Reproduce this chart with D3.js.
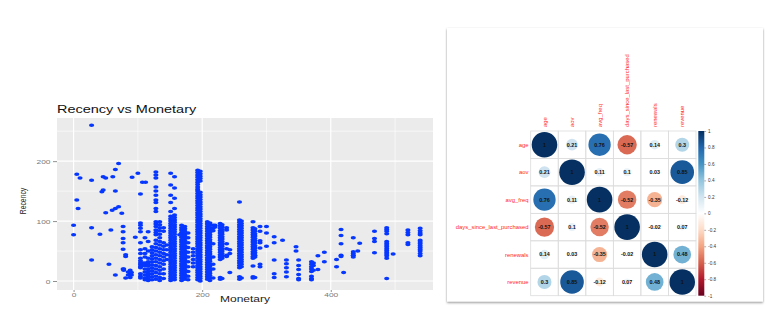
<!DOCTYPE html>
<html>
<head>
<meta charset="utf-8">
<script src="https://cdn.jsdelivr.net/npm/d3@7"></script>
<style>
  html, body { margin: 0; padding: 0; background: #fff; }
  svg { display: block; font-family: "Liberation Sans", Arial, Helvetica, sans-serif; }
</style>
</head>
<body>
<svg id="chart" width="782" height="332"></svg>
<script>
// ---------- Recency vs Monetary: each entry is [monetary, recency values observed at it] ----------
const recencyByMonetary = [
  [0, [93, 77]],
  [5, [178, 135]],
  [7, [121]],
  [10, [172]],
  [28, [260, 168, 89, 35]],
  [41, [78]],
  [44, [149]],
  [46, [152, 174]],
  [50, [114, 172]],
  [55, [28]],
  [58, [85]],
  [60, [118]],
  [61, [174]],
  [65, [186, 150, 121, 10]],
  [70, [196, 124]],
  [75, [113]],
  [77, [91, 82, 71, 64, 53, 20]],
  [78, [20, 18]],
  [81, [44, 41, 5]],
  [85, [15, 10]],
  [88, [18, 12, 6]],
  [90, [10, 14]],
  [91, [173]],
  [96, [73]],
  [100, [180]],
  [104, [145, 97, 93, 88, 82, 64, 52, 46, 38, 34, 30, 27, 24, 22, 12, 8, 5]],
  [107, [165, 30, 26]],
  [111, [72, 54, 46, 40, 30, 26, 20, 15, 10, 5, 2]],
  [112, [165]],
  [116, [82, 66, 50, 38, 32, 28, 25, 20, 16, 12, 8, 4, 1]],
  [122, [57, 52, 47, 42, 37, 32, 27, 22, 17, 12, 7, 2]],
  [128, [182, 177, 172, 157, 150, 143, 135, 131, 121, 116, 99, 95, 91, 85, 81, 77, 68, 62, 56, 50, 44, 38, 32, 26, 20, 14, 8, 3]],
  [134, [99, 94, 89, 84, 78, 72, 66, 60, 54, 48, 42, 36, 30, 24, 18, 12, 6, 1]],
  [140, [89, 83, 64, 58, 52, 46, 40, 34, 28, 20, 12, 4]],
  [145, [60, 52, 44, 36]],
  [151, [180, 160, 143, 131, 116, 108, 104, 100, 96, 92, 88, 84, 80, 76, 72, 68, 64, 60, 56, 52, 48, 44, 40, 36, 32, 28, 24, 20, 16, 12, 8, 4, 1]],
  [157, [174, 155, 138, 121, 110, 106, 102, 98, 94, 90, 86, 82, 78, 74, 70, 66, 62, 58, 54, 50, 46, 42, 38, 34, 30, 26, 22, 18, 14, 10, 6, 2]],
  [165, [77]],
  [168, [93, 89, 85, 81, 77, 73, 69, 65, 61, 57, 53, 49, 45, 41, 37, 33, 29, 25, 21, 17, 13, 9, 5, 1]],
  [173, [91, 87, 83, 79, 75, 71, 67, 63, 59, 55, 51, 47, 43, 39, 35, 31, 27, 23, 19, 15, 11, 7, 3]],
  [178, [80, 72, 64, 56, 48, 40, 32, 24, 16, 8, 2]],
  [186, [54, 48, 42, 36, 30, 24]],
  [193, [185, 181, 177, 173, 169, 165, 161, 157, 153, 150, 146, 142, 138, 134, 130, 126, 122, 118, 114, 110, 106, 102, 98, 94, 90, 86, 82, 78, 74, 70, 66, 62, 58, 54, 50, 46, 42, 38, 34, 30, 26, 22, 18, 14, 10, 6, 2]],
  [197, [183, 179, 175, 171, 167, 148, 144, 140, 136, 132, 128, 124, 120, 116, 112, 108, 104, 100, 96, 92, 88, 84, 80, 76, 72, 68, 64, 60, 56, 52, 48, 44, 40, 36, 32, 28, 24, 20, 16, 12, 8, 4, 0]],
  [208, [99, 95, 91, 87, 83, 79, 75, 71, 67, 63, 59, 55, 51, 47, 43, 39, 35, 31, 27, 23, 19, 15, 11, 7, 3]],
  [212, [97, 93, 89, 85, 81, 77, 73, 69, 65, 61, 57, 53, 49, 45, 41, 37, 33, 29, 25, 21, 17, 13, 9, 5, 1]],
  [217, [93, 88, 84, 62, 40, 28, 20, 5]],
  [220, [93, 90]],
  [228, [96, 92, 88, 84, 80, 76, 72, 68, 64, 60, 56, 52, 48, 44, 40, 36, 6, 3]],
  [231, [94, 90, 86, 82, 78, 74, 70, 66, 62, 58, 54, 50, 46, 42, 38, 4]],
  [238, [89, 85, 62, 54, 43, 41]],
  [243, [52, 46, 14]],
  [258, [132, 102, 98, 94, 90, 86, 82, 78, 74, 70, 66, 62, 58, 54, 50, 46, 42, 38, 34, 30, 26, 22, 7, 3]],
  [261, [100, 96, 92, 88, 84, 80, 76, 72, 68, 64, 60, 56, 52, 48, 44, 40, 36, 32, 28, 24, 5]],
  [279, [99, 89, 85, 81, 77, 73, 69, 65, 61, 57, 53, 49, 45, 41, 38, 25, 7, 5]],
  [282, [87, 83, 79, 75, 71, 67, 63, 59, 55, 51, 47, 43, 40, 6]],
  [290, [91, 83, 67, 64, 55, 28, 24]],
  [300, [91, 80, 58]],
  [312, [74, 64, 35, 12, 6]],
  [325, [68]],
  [331, [35, 29, 22, 15, 7]],
  [346, [57, 50]],
  [350, [35, 26, 19, 11, 4, 2]],
  [370, [32, 28, 24, 20, 16, 8, 4, 2]],
  [373, [30, 26, 18]],
  [380, [42, 19]],
  [390, [48, 32]],
  [409, [36, 24]],
  [416, [86, 76, 62, 43, 41]],
  [420, [14]],
  [435, [72, 49, 46, 43, 40]],
  [442, [50]],
  [445, [63]],
  [468, [83, 71, 66, 47]],
  [487, [89, 86, 83, 79, 66, 63, 60, 57, 54, 51, 48, 45, 42, 38, 4]],
  [497, [45]],
  [520, [85, 81, 77, 64, 61]],
  [539, [88, 84, 80, 77, 68, 65, 62, 59, 56, 53, 50, 46, 42]]
];
const xTicks = [0, 200, 400];
const xMinor = [100, 300, 500];
const yTicks = [0, 100, 200];
const yMinor = [50, 150, 250];

// ---------- Correlation matrix ----------
const variables = ["age", "aov", "avg_freq", "days_since_last_purchased", "renewals", "revenue"];
const corrAge      = [1, 0.21, 0.76, -0.57, 0.14, 0.3];
const corrAov      = [0.21, 1, 0.11, 0.1, 0.03, 0.85];
const corrAvgFreq  = [0.76, 0.11, 1, -0.52, -0.35, -0.12];
const corrDays     = [-0.57, 0.1, -0.52, 1, -0.02, 0.07];
const corrRenewals = [0.14, 0.03, -0.35, -0.02, 1, 0.48];
const corrRevenue  = [0.3, 0.85, -0.12, 0.07, 0.48, 1];
const legendTicks = [1, 0.8, 0.6, 0.4, 0.2, 0, -0.2, -0.4, -0.6, -0.8, -1];
const rdbu = ["#67001F", "#B2182B", "#D6604D", "#F4A582", "#FDDBC7", "#FFFFFF",
              "#D1E5F0", "#92C5DE", "#4393C3", "#2166AC", "#053061"];

const svg = d3.select("#chart");
const SX = 1.45; // horizontal stretch of the scatter panel's lettering

// ================= Scatter =================
const x = d3.scaleLinear().domain([-25.8, 559]).range([57, 433]);
const y = d3.scaleLinear().domain([-15, 272]).range([290, 118]);

const sc = svg.append("g");
sc.append("rect")
  .attr("x", x.range()[0]).attr("y", y.range()[1])
  .attr("width", x.range()[1] - x.range()[0])
  .attr("height", y.range()[0] - y.range()[1])
  .attr("fill", "#EBEBEB");

// grid lines
sc.selectAll(".gxm").data(xMinor).join("line")
  .attr("x1", d => x(d)).attr("x2", d => x(d))
  .attr("y1", y.range()[1]).attr("y2", y.range()[0])
  .attr("stroke", "#fff").attr("stroke-width", 0.6);
sc.selectAll(".gym").data(yMinor).join("line")
  .attr("y1", d => y(d)).attr("y2", d => y(d))
  .attr("x1", x.range()[0]).attr("x2", x.range()[1])
  .attr("stroke", "#fff").attr("stroke-width", 0.6);
sc.selectAll(".gx").data(xTicks).join("line")
  .attr("x1", d => x(d)).attr("x2", d => x(d))
  .attr("y1", y.range()[1]).attr("y2", y.range()[0])
  .attr("stroke", "#fff").attr("stroke-width", 1.2);
sc.selectAll(".gy").data(yTicks).join("line")
  .attr("y1", d => y(d)).attr("y2", d => y(d))
  .attr("x1", x.range()[0]).attr("x2", x.range()[1])
  .attr("stroke", "#fff").attr("stroke-width", 1.2);

// points
const points = recencyByMonetary.flatMap(([m, rs]) => rs.map(r => ({ m, r })));
sc.append("g").selectAll("ellipse").data(points).join("ellipse")
  .attr("cx", d => x(d.m)).attr("cy", d => y(d.r))
  .attr("rx", 2.6).attr("ry", 1.75)
  .attr("fill", "#0637FF");

// axes
const xAxis = sc.append("g").attr("transform", `translate(0,${y.range()[0]})`)
  .call(d3.axisBottom(x).tickValues(xTicks).tickSize(2).tickPadding(2));
const yAxis = sc.append("g").attr("transform", `translate(${x.range()[0]},0)`)
  .call(d3.axisLeft(y).tickValues(yTicks).tickSize(4).tickPadding(2));
[xAxis, yAxis].forEach(a => {
  a.select(".domain").remove();
  a.selectAll(".tick line").attr("stroke", "#444").attr("stroke-width", 0.6);
  a.selectAll(".tick text").attr("fill", "#7a7a7a").attr("font-size", 5.8)
    .attr("font-family", null);
});
xAxis.selectAll(".tick text").attr("y", 3).attr("dy", "0.71em")
  .attr("transform", `scale(${SX},1)`);
yAxis.selectAll(".tick text").attr("x", 0).attr("dy", "0.35em")
  .attr("transform", `translate(-6.5,0) scale(${SX},1)`);

// titles
sc.append("text").text("Recency vs Monetary")
  .attr("transform", `translate(57,113) scale(${SX},1)`)
  .attr("font-size", 10).attr("fill", "#111");
sc.append("text").text("Monetary")
  .attr("transform", `translate(${(x.range()[0] + x.range()[1]) / 2},301.5) scale(${SX},1)`)
  .attr("text-anchor", "middle").attr("font-size", 8.3).attr("fill", "#222");
sc.append("text").text("Recency")
  .attr("transform", `translate(25.5,201) scale(${SX},1) rotate(-90)`)
  .attr("text-anchor", "middle").attr("font-size", 6.8).attr("fill", "#222");

// ================= Correlation card =================
const defs = svg.append("defs");
const shadow = defs.append("filter").attr("id", "cardShadow")
  .attr("x", "-5%").attr("y", "-5%").attr("width", "110%").attr("height", "110%");
shadow.append("feDropShadow").attr("dx", 0).attr("dy", 1.2)
  .attr("stdDeviation", 1.3).attr("flood-color", "#000").attr("flood-opacity", 0.45);

svg.append("rect").attr("x", 447).attr("y", 28).attr("width", 316).attr("height", 273.5)
  .attr("fill", "#fff").attr("filter", "url(#cardShadow)");

const matrix = [corrAge, corrAov, corrAvgFreq, corrDays, corrRenewals, corrRevenue];
const colX = d3.scaleBand().domain(variables).range([530.7, 696]);
const rowY = d3.scaleBand().domain(variables).range([131, 295.7]);
const radius = d3.scaleSqrt().domain([0, 1]).range([0, 12.8]);
const color = d3.scaleLinear().domain(d3.range(11).map(i => -1 + i * 0.2)).range(rdbu);

const cg = svg.append("g");
// cell grid
const cells = [];
variables.forEach((rv, i) => variables.forEach((cv, j) => cells.push({ rv, cv, v: matrix[i][j] })));
cg.selectAll("rect.cell").data(cells).join("rect")
  .attr("x", d => colX(d.cv)).attr("y", d => rowY(d.rv))
  .attr("width", colX.bandwidth()).attr("height", rowY.bandwidth())
  .attr("fill", "none").attr("stroke", "#dcdcdc").attr("stroke-width", 0.8);
cg.selectAll("circle").data(cells).join("circle")
  .attr("cx", d => colX(d.cv) + colX.bandwidth() / 2)
  .attr("cy", d => rowY(d.rv) + rowY.bandwidth() / 2)
  .attr("r", d => radius(Math.abs(d.v)))
  .attr("fill", d => color(d.v));
cg.selectAll("text.val").data(cells).join("text")
  .attr("x", d => colX(d.cv) + colX.bandwidth() / 2)
  .attr("y", d => rowY(d.rv) + rowY.bandwidth() / 2)
  .attr("dy", "0.35em").attr("text-anchor", "middle")
  .attr("font-size", 5.4).attr("font-weight", "bold").attr("fill", "#111")
  .text(d => String(d.v));

// row labels
cg.selectAll("text.row").data(variables).join("text")
  .attr("x", 528.5).attr("y", d => rowY(d) + rowY.bandwidth() / 2)
  .attr("dy", "0.35em").attr("text-anchor", "end")
  .attr("font-size", 5.9).attr("fill", "#ff1f1f")
  .text(d => d);
// column labels
cg.selectAll("text.col").data(variables).join("text")
  .attr("transform", d => `translate(${colX(d) + colX.bandwidth() / 2},127) rotate(-90)`)
  .attr("dy", "0.35em").attr("text-anchor", "start")
  .attr("font-size", 5.9).attr("fill", "#ff1f1f")
  .text(d => d);

// colour legend
const grad = defs.append("linearGradient").attr("id", "corrGrad")
  .attr("x1", 0).attr("y1", 1).attr("x2", 0).attr("y2", 0);
rdbu.forEach((c, i) => grad.append("stop").attr("offset", i / (rdbu.length - 1)).attr("stop-color", c));
const legY = d3.scaleLinear().domain([-1, 1]).range([295.7, 131]);
svg.append("rect").attr("x", 698.3).attr("y", legY(1)).attr("width", 6)
  .attr("height", legY(-1) - legY(1)).attr("fill", "url(#corrGrad)");
const legAxis = svg.append("g").attr("transform", "translate(704.3,0)")
  .call(d3.axisRight(legY).tickValues(legendTicks).tickSize(1.8).tickPadding(2)
    .tickFormat(d => String(+d.toFixed(1))));
legAxis.select(".domain").remove();
legAxis.selectAll(".tick line").attr("stroke", "#555").attr("stroke-width", 0.5);
legAxis.selectAll(".tick text").attr("font-size", 4.6).attr("fill", "#333")
  .attr("font-family", null);
</script>
</body>
</html>
